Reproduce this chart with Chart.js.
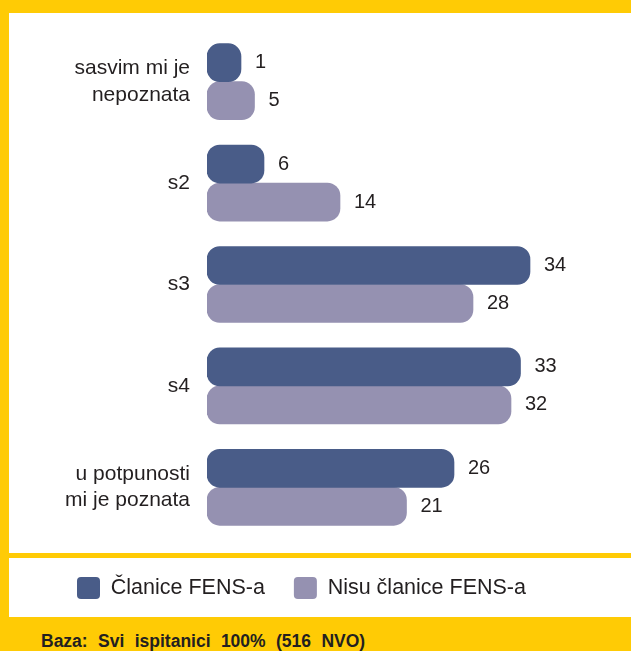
<!DOCTYPE html>
<html>
<head>
<meta charset="utf-8">
<script src="https://cdn.jsdelivr.net/npm/chart.js@4"></script>
<style>
  html, body { margin: 0; padding: 0; }
  body {
    width: 631px; height: 651px; position: relative; overflow: hidden;
    background: #ffcb05;
    font-family: "Liberation Sans", Arial, sans-serif;
  }
  .panel { position: absolute; left: 9px; width: 622px; background: #fff; }
  #top { top: 13px; height: 540px; }
  #bottom { top: 558px; height: 59px; }
  #chart { position: absolute; left: 9px; top: 13px; }
  .base {
    position: absolute; left: 41px; top: 631px;
    font-weight: bold; font-size: 17.5px; color: #231f20;
    word-spacing: 5.5px;
  }
</style>
</head>
<body>
<div class="panel" id="top"></div>
<div class="panel" id="bottom"></div>
<canvas id="chart" width="622" height="604"></canvas>
<div class="base">Baza: Svi ispitanici 100% (516 NVO)</div>

<script>
// data (percent)
const categories = [
  ['sasvim mi je', 'nepoznata'],
  's2',
  's3',
  's4',
  ['u potpunosti', 'mi je poznata']
];
const seriesNames = ['Članice FENS-a', 'Nisu članice FENS-a'];
const members = [1, 6, 34, 33, 26];
const nonMembers = [5, 14, 28, 32, 21];

const textColor = '#231f20';
const fontFamily = '"Liberation Sans", Arial, sans-serif';

// value next to each bar end
const valueLabels = {
  id: 'valueLabels',
  afterDatasetsDraw(chart) {
    const ctx = chart.ctx;
    ctx.save();
    ctx.font = '20px ' + fontFamily;
    ctx.fillStyle = textColor;
    ctx.textAlign = 'left';
    ctx.textBaseline = 'middle';
    chart.data.datasets.forEach((ds, i) => {
      chart.getDatasetMeta(i).data.forEach((bar, j) => {
        ctx.fillText(String(ds.data[j]), bar.x + 14, bar.y);
      });
    });
    ctx.restore();
  }
};

const barStyle = {
  barThickness: 38,
  minBarLength: 34,
  borderRadius: 13,
  borderSkipped: false,
  borderWidth: 0
};

new Chart(document.getElementById('chart'), {
  type: 'bar',
  data: {
    labels: categories,
    datasets: [
      { label: seriesNames[0], data: members, backgroundColor: '#495c88', ...barStyle },
      { label: seriesNames[1], data: nonMembers, backgroundColor: '#9591b1', ...barStyle }
    ]
  },
  options: {
    indexAxis: 'y',
    responsive: false,
    animation: false,
    layout: { padding: { top: 18, left: 39, right: 44, bottom: 8 } },
    scales: {
      x: {
        min: 0,
        max: 40,
        grid: { display: false, drawTicks: false },
        border: { display: false },
        ticks: { display: false },
        afterFit(scale) { scale.height = 10; }
      },
      y: {
        grid: { display: false, drawTicks: false },
        border: { display: false },
        ticks: {
          color: textColor,
          padding: 17,
          font: { family: fontFamily, size: 21, lineHeight: 1.25 }
        },
        afterFit(scale) {
          scale.width = 159;
          // labels sit inside the category bands, no extra room needed
          scale.paddingTop = 0;
          scale.paddingBottom = 0;
        }
      }
    },
    plugins: {
      legend: {
        position: 'bottom',
        align: 'start',
        labels: {
          boxWidth: 23,
          boxHeight: 22,
          padding: 29,
          useBorderRadius: true,
          borderRadius: 4,
          color: textColor,
          font: { family: fontFamily, size: 21.5 }
        }
      },
      tooltip: { enabled: false }
    }
  },
  plugins: [valueLabels]
});
</script>
</body>
</html>
